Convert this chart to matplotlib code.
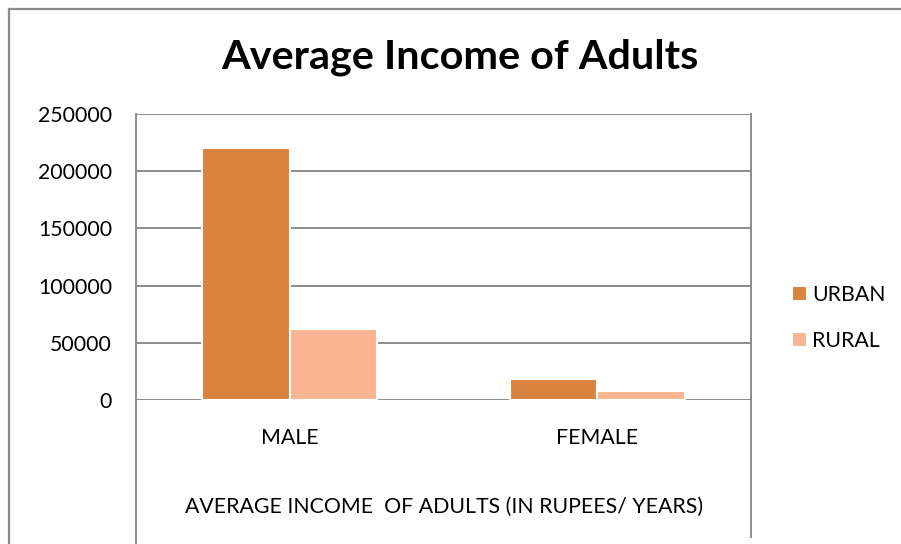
import matplotlib.pyplot as plt
import numpy as np
from matplotlib.lines import Line2D

plt.rcParams['font.family'] = ['Lato', 'DejaVu Sans']

categories = ["MALE", "FEMALE"]
urban = [220000, 18500]
rural = [62500, 7500]
series_names = ["URBAN", "RURAL"]
colors = ["#DA833F", "#F9B592"]
yticks = [0, 50000, 100000, 150000, 200000, 250000]

W, H = 901, 544
fig = plt.figure(figsize=(W / 100, H / 100), dpi=100)

# plot area in pixel coords
left, right, top, bottom = 136, 751, 114, 400
ax = fig.add_axes([left / W, 1 - bottom / H, (right - left) / W, (bottom - top) / H])

x = np.arange(len(categories))
bw = 0.285
grey = "#8c8c8c"
fs = 15.3

for yt in yticks:
    ax.axhline(yt, color=grey, lw=1.4, zorder=1)

ax.bar(x - bw / 2, urban, bw, color=colors[0], edgecolor="white", lw=1.5,
       label=series_names[0], zorder=3)
ax.bar(x + bw / 2, rural, bw, color=colors[1], edgecolor="white", lw=1.5,
       label=series_names[1], zorder=3)

ax.set_xlim(-0.5, len(categories) - 0.5)
ax.set_ylim(0, 250000)
ax.set_yticks(yticks)
ax.set_yticklabels([str(v) for v in yticks], fontsize=fs)
ax.tick_params(axis="y", length=0, pad=17.3)
ax.set_xticks([])

for s in ax.spines.values():
    s.set_visible(False)
for side in ["left", "right"]:
    ax.spines[side].set_visible(True)
    ax.spines[side].set_color(grey)
    ax.spines[side].set_linewidth(1.4)

# category labels and axis title below the plot
for i, c in enumerate(categories):
    ax.text(i, -38 / 286 * 250000, c, ha="center", va="center", fontsize=fs)
fig.text(444 / W, 1 - 507 / H, "AVERAGE INCOME  OF ADULTS (IN RUPEES/ YEARS)",
         ha="center", va="center", fontsize=fs)

# box lines continuing below the plot area
fig.add_artist(Line2D([left / W, left / W], [0, 1 - bottom / H], color=grey, lw=1.4))
fig.add_artist(Line2D([right / W, right / W], [1 - 537 / H, 1 - bottom / H], color=grey, lw=1.4))

# outer chart frame
fig.add_artist(Line2D([9 / W, 9 / W], [0, 1 - 9 / H], color=grey, lw=1.6))
fig.add_artist(Line2D([9 / W, 1], [1 - 9 / H, 1 - 9 / H], color=grey, lw=1.6))

fig.text(460 / W, 1 - 57 / H, "Average Income of Adults", ha="center", va="center",
         fontsize=29.8, fontweight="bold")

fig.legend(loc="center left", bbox_to_anchor=(773 / W, 1 - 318 / H), frameon=False,
           fontsize=fs, handlelength=0.7, handleheight=0.7, handletextpad=0.25,
           labelspacing=1.2)

fig.savefig("out.png", dpi=100)
